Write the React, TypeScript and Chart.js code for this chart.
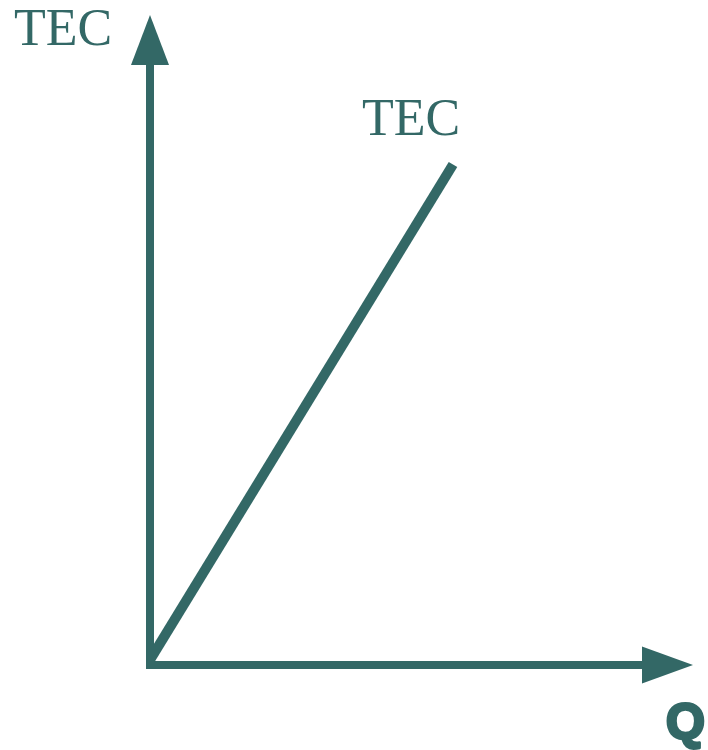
import React, { useEffect, useRef } from "react";
import { Chart, registerables } from "chart.js";

Chart.register(...registerables);

const COLOR = "#336866";
const quantity: number[] = [0, 5.58];
const tecValues: number[] = [0.08, 7.7];
const yAxisTitle = "TEC";
const xAxisTitle = "Q";
const seriesLabel = "TEC";

const SERIF = '52px "Liberation Serif"';
const SANS = 'bold 50px "Liberation Sans"';

const axesPlugin = {
  id: "econAxes",
  afterDraw(chart: any) {
    const { ctx, chartArea, scales } = chart;
    const x0 = scales.x.getPixelForValue(0);
    const y0 = scales.y.getPixelForValue(0);
    const top = chartArea.top;
    const right = chartArea.right;
    ctx.save();
    ctx.fillStyle = COLOR;
    ctx.strokeStyle = COLOR;
    ctx.lineCap = "butt";
    ctx.lineWidth = 8;
    ctx.beginPath();
    ctx.moveTo(x0, y0 + 4);
    ctx.lineTo(x0, top + 50);
    ctx.stroke();
    ctx.beginPath();
    ctx.moveTo(x0, top);
    ctx.lineTo(x0 - 19, top + 50);
    ctx.lineTo(x0 + 19, top + 50);
    ctx.closePath();
    ctx.fill();
    ctx.beginPath();
    ctx.moveTo(x0 - 4, y0);
    ctx.lineTo(right - 51, y0);
    ctx.stroke();
    ctx.beginPath();
    ctx.moveTo(right, y0);
    ctx.lineTo(right - 51, y0 - 18.5);
    ctx.lineTo(right - 51, y0 + 18.5);
    ctx.closePath();
    ctx.fill();

    ctx.textBaseline = "alphabetic";
    ctx.textAlign = "left";
    ctx.font = SERIF + ', "Times New Roman", serif';
    ctx.fillText(yAxisTitle, x0 - 136, top + 30);
    const meta = chart.getDatasetMeta(0);
    const last = meta.data[meta.data.length - 1];
    ctx.fillText(seriesLabel, last.x - 91, last.y - 30);
    ctx.font = SANS + ", Arial, sans-serif";
    ctx.lineWidth = 3;
    ctx.lineJoin = "round";
    ctx.fillText(xAxisTitle, right - 27, y0 + 74);
    ctx.strokeText(xAxisTitle, right - 27, y0 + 74);
    ctx.restore();
  },
};

export default function App() {
  const ref = useRef<HTMLCanvasElement | null>(null);
  useEffect(() => {
    let chart: any = null;
    let cancelled = false;
    const make = () => {
      if (cancelled || !ref.current) return;
      chart = new Chart(ref.current, {
        type: "scatter",
        data: {
          datasets: [
            {
              label: seriesLabel,
              data: quantity.map((q, i) => ({ x: q, y: tecValues[i] })),
              showLine: true,
              borderColor: COLOR,
              borderWidth: 10,
              pointRadius: 0,
              borderCapStyle: "butt",
            } as any,
          ],
        },
        options: {
          animation: false,
          responsive: false,
          maintainAspectRatio: false,
          layout: { padding: { left: 150, right: 15, top: 15, bottom: 85 } },
          plugins: { legend: { display: false }, tooltip: { enabled: false } },
          scales: {
            x: { type: "linear", min: 0, max: 10, display: false },
            y: { type: "linear", min: 0, max: 10, display: false },
          },
        },
        plugins: [axesPlugin],
      });
    };
    const fonts: any = (document as any).fonts;
    if (fonts && fonts.load) {
      Promise.all([fonts.load(SERIF, "TEC"), fonts.load(SANS, "Q")])
        .catch(() => null)
        .then(() => make());
    } else {
      make();
    }
    return () => {
      cancelled = true;
      if (chart) chart.destroy();
    };
  }, []);
  return (
    <div style={{ position: "fixed", left: 0, top: 0, width: 708, height: 750, background: "#fff" }}>
      <canvas ref={ref} width={708} height={750} style={{ width: 708, height: 750, display: "block" }} />
    </div>
  );
}
